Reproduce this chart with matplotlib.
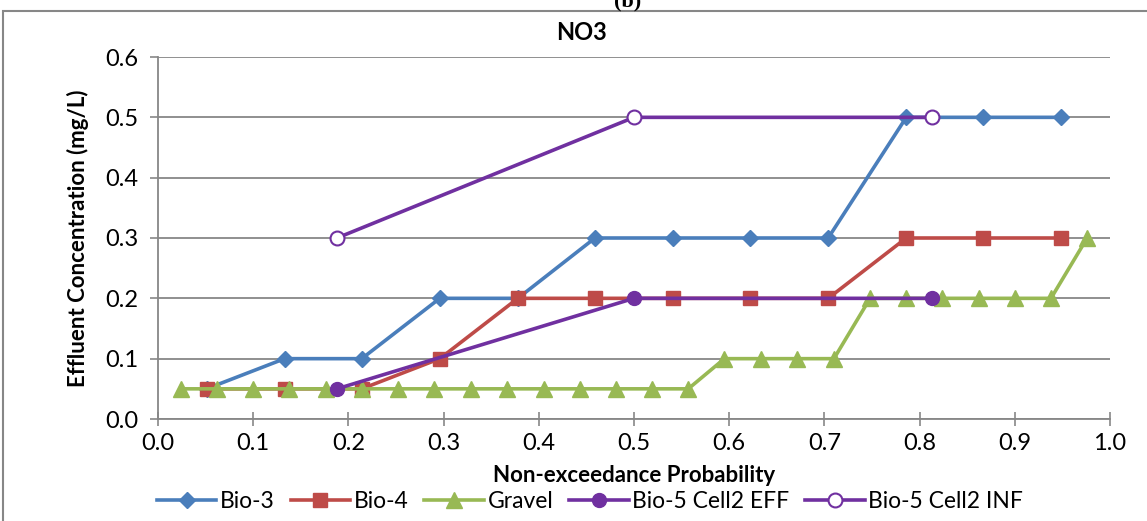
# NO3 non-exceedance probability chart
import matplotlib
matplotlib.use("Agg")
import matplotlib.pyplot as plt
from matplotlib.patches import Rectangle

plt.rcParams['font.family'] = ['Lato', 'DejaVu Sans']

# data
bio3_x = [0.051, 0.133, 0.214, 0.296, 0.378, 0.459, 0.541, 0.622, 0.704, 0.786, 0.867, 0.949]
bio3_y = [0.05, 0.1, 0.1, 0.2, 0.2, 0.3, 0.3, 0.3, 0.3, 0.5, 0.5, 0.5]
bio4_x = [0.051, 0.133, 0.214, 0.296, 0.378, 0.459, 0.541, 0.622, 0.704, 0.786, 0.867, 0.949]
bio4_y = [0.05, 0.05, 0.05, 0.1, 0.2, 0.2, 0.2, 0.2, 0.2, 0.3, 0.3, 0.3]
gravel_x = [0.024, 0.062, 0.100, 0.138, 0.176, 0.214, 0.252, 0.290, 0.329, 0.367,
            0.405, 0.443, 0.481, 0.519, 0.557, 0.595, 0.633, 0.671, 0.710, 0.748,
            0.786, 0.824, 0.862, 0.900, 0.938, 0.976]
gravel_y = [0.05] * 15 + [0.1] * 4 + [0.2] * 6 + [0.3]
eff_x = [0.188, 0.5, 0.813]
eff_y = [0.05, 0.2, 0.2]
inf_x = [0.188, 0.5, 0.813]
inf_y = [0.3, 0.5, 0.5]

blue = '#4A7EBB'
red = '#BE4B48'
green = '#98B954'
purple = '#7030A0'

fig = plt.figure(figsize=(11.47, 5.21), dpi=100)
ax = fig.add_axes([158/1147, 1-419/521, (1110-158)/1147, (419-57)/521])

lw = 2.6
ax.plot(bio3_x, bio3_y, color=blue, lw=lw, marker='D', ms=8, label='Bio-3', zorder=3)
ax.plot(bio4_x, bio4_y, color=red, lw=lw, marker='s', ms=10, label='Bio-4', zorder=3)
ax.plot(gravel_x, gravel_y, color=green, lw=lw, marker='^', ms=11, label='Gravel', zorder=3)
ax.plot(eff_x, eff_y, color=purple, lw=lw, marker='o', ms=10, label='Bio-5 Cell2 EFF', zorder=4)
ax.plot(inf_x, inf_y, color=purple, lw=lw, marker='o', ms=10, mfc='white',
        mew=1.5, label='Bio-5 Cell2 INF', zorder=4)

ax.set_xlim(0, 1.0)
ax.set_ylim(0, 0.6)
ax.set_xticks([i / 10 for i in range(11)])
ax.set_yticks([i / 10 for i in range(7)])
ax.set_xticklabels(['%.1f' % (i / 10) for i in range(11)])
ax.set_yticklabels(['%.1f' % (i / 10) for i in range(7)])
ax.tick_params(axis='x', direction='inout', length=10, width=1.2, color='#878787', labelsize=17, pad=5)
ax.tick_params(axis='y', direction='out', length=6, width=1.2, color='#878787', labelsize=17, pad=8)
ax.grid(axis='y', color='#878787', lw=1.3)
ax.set_axisbelow(True)
for s in ['top', 'right']:
    ax.spines[s].set_visible(False)
for s in ['left', 'bottom']:
    ax.spines[s].set_color('#878787')
    ax.spines[s].set_linewidth(1.3)

ax.set_xlabel('Non-exceedance Probability', fontsize=16, fontweight='bold', labelpad=8)
ax.set_ylabel('Effluent Concentration (mg/L)', fontsize=16, fontweight='bold', labelpad=12)

fig.text(582/1147, 1-32/521, 'NO3', ha='center', va='center', fontsize=17, fontweight='bold')
fig.text(628/1147, 1-6/521, '(b)', ha='center', va='baseline', fontsize=16,
         fontweight='bold', family='Liberation Serif')

fig.add_artist(Rectangle((3/1147, -0.1), 1.2, 1-11/521+0.1, transform=fig.transFigure,
                         fill=False, edgecolor='#878787', lw=1.5))

fig.legend(loc='center', bbox_to_anchor=(590/1147, 1-502/521), ncol=5, frameon=False,
           fontsize=16.5, handlelength=2.6, columnspacing=0.7, handletextpad=0.15,
           borderaxespad=0)

fig.savefig('out.png', dpi=100)
